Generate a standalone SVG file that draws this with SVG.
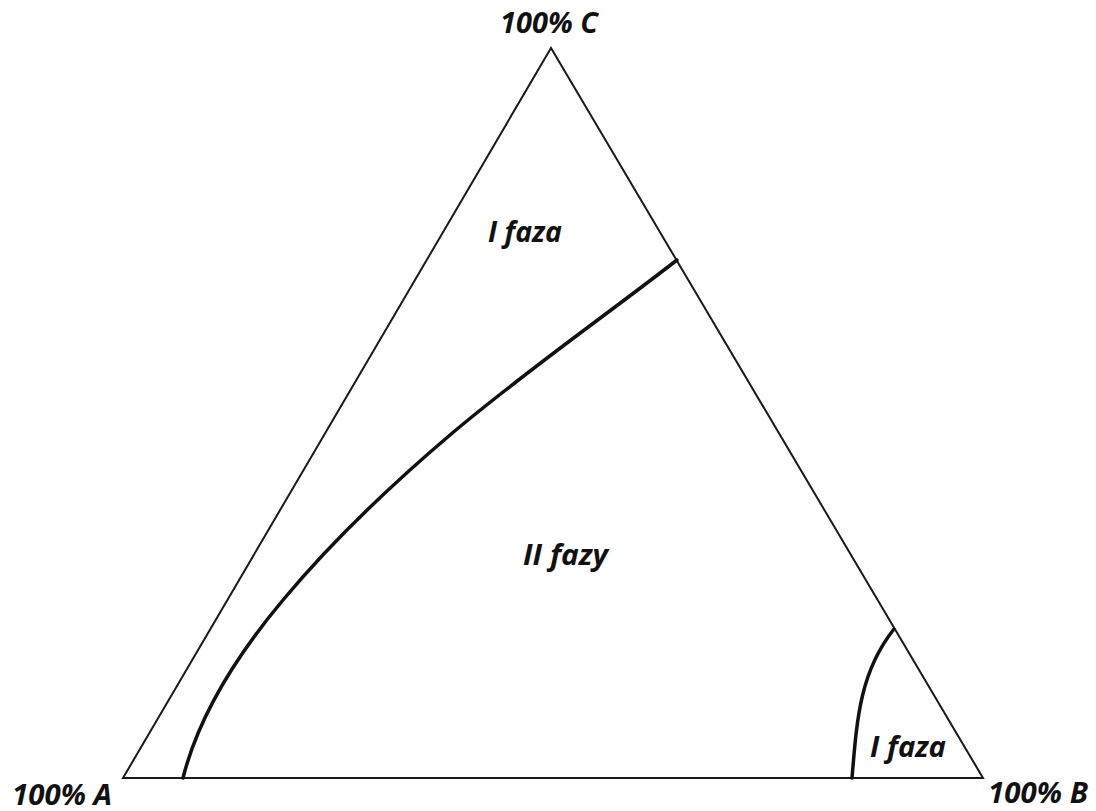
<svg xmlns="http://www.w3.org/2000/svg" width="1096" height="811" viewBox="0 0 1096 811">
<style>
.lbl{font-family:"Open Sans","Liberation Sans",sans-serif;font-weight:bold;font-style:italic;font-size:28px;fill:#111}
.edge{fill:none;stroke:#1a1a1a;stroke-width:2;stroke-linejoin:miter}
.curve{fill:none;stroke:#111;stroke-width:3.5;stroke-linecap:round}
</style>
<rect width="1096" height="811" fill="#fff"/>
<g id="triangle">
<polygon class="edge" points="123,778 551,48 983,778"/>
</g>
<g id="connectors">
<path class="curve" d="M183,778 C199.5,712 239.5,652 283,600 C333,540 390.6,485.5 450,435 C523,373 601,319 677,260"/>
<path class="curve" d="M852,778 C857,718 860,672 894,629"/>
</g>
<g id="vertex-C"><text class="lbl" x="500" y="33" textLength="98" lengthAdjust="spacingAndGlyphs">100% C</text></g>
<g id="vertex-A"><text class="lbl" x="12" y="805" textLength="100" lengthAdjust="spacingAndGlyphs">100% A</text></g>
<g id="vertex-B"><text class="lbl" x="988" y="803" textLength="100" lengthAdjust="spacingAndGlyphs">100% B</text></g>
<g id="region-top"><text class="lbl" x="488" y="242" textLength="74" lengthAdjust="spacingAndGlyphs">I faza</text></g>
<g id="region-middle"><text class="lbl" x="523" y="565" textLength="85" lengthAdjust="spacingAndGlyphs">II fazy</text></g>
<g id="region-bottom"><text class="lbl" x="870" y="757" textLength="76" lengthAdjust="spacingAndGlyphs">I faza</text></g>
</svg>
